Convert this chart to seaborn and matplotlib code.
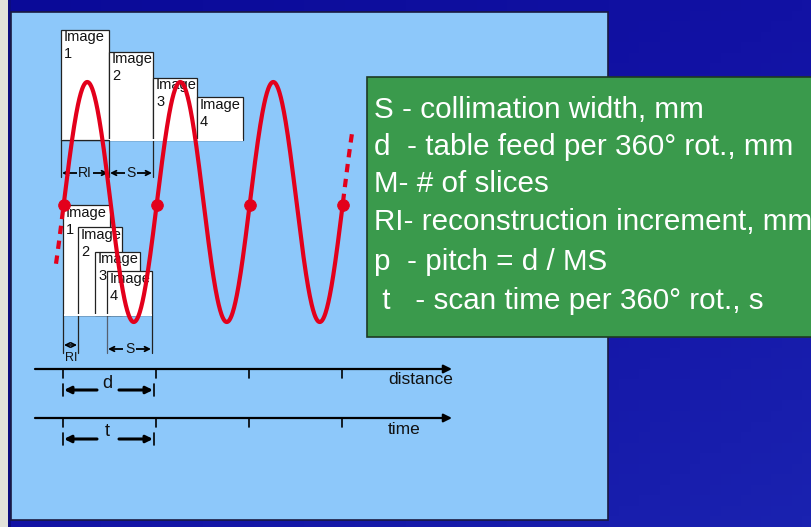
import numpy as np
import pandas as pd
import matplotlib
matplotlib.use("Agg")
import matplotlib.pyplot as plt
from matplotlib.patches import Rectangle
import seaborn as sns

sns.set_theme(style="white")
plt.rcParams['font.family'] = ['Liberation Sans', 'DejaVu Sans']

# ---------------- data (diagram coordinates, pixels) ----------------
rotation_starts = [64, 157, 250, 343]          # rotation boundaries along the axis
helix_period = 93
helix_mid = 202
helix_amp = 120

image_numbers = ["1", "2", "3", "4"]
top_image_left = [61, 109, 153, 197]
top_image_right = [109, 153, 197, 243]
top_image_top = [30, 52, 78, 97]
top_image_bottom = 140

bot_image_left = [63, 78, 95, 107]
bot_image_right = [110, 122, 140, 152]
bot_image_top = [205, 227, 252, 271]
bot_image_bottom = 315

legend_lines = [
    "S - collimation width, mm",
    "d  - table feed per 360\u00b0 rot., mm",
    "M- # of slices",
    "RI- reconstruction increment, mm",
    "p  - pitch = d / MS",
    " t   - scan time per 360\u00b0 rot., s",
]
axis_names = ["distance", "time"]

RED = "#E3001B"
PANEL = "#8DC8FA"

fig = plt.figure(figsize=(8.12, 5.27), dpi=100)
ax = fig.add_axes([0, 0, 1, 1])
ax.set_xlim(0, 812)
ax.set_ylim(527, 0)
ax.axis('off')

# background gradient (dark blue)
gy, gx = np.mgrid[0:1:50j, 0:1:80j]
grad = 0.5 * gx + 0.5 * gy
cmap = matplotlib.colors.LinearSegmentedColormap.from_list("bg", ["#0A0A98", "#1212A4", "#1A22B0"])
ax.imshow(grad, extent=(0, 812, 527, 0), cmap=cmap, aspect='auto', zorder=0)
ax.add_patch(Rectangle((0, 0), 8, 527, facecolor="#E2E2DA", edgecolor='none', zorder=1))
ax.add_patch(Rectangle((8, 0), 3, 527, facecolor="#0C0C80", edgecolor='none', zorder=1))

# light blue panel
ax.add_patch(Rectangle((11, 12), 597, 508, facecolor=PANEL, edgecolor="#1A1A40", lw=1.2, zorder=2))

# ---------------- image boxes ----------------
def boxes(lefts, rights, tops, bottom, labels):
    for i, (l, r, t, lab) in enumerate(zip(lefts, rights, tops, labels)):
        z = 3 + 2 * i
        ax.add_patch(Rectangle((l, t), r - l, bottom - t, facecolor="white",
                               edgecolor="#222222", lw=0.9, zorder=z))
        ax.text(l + 3, t + 7.5, "Image", fontsize=10.5, va='center', ha='left', color="#111111", zorder=z + 1)
        ax.text(l + 3, t + 24.5, lab, fontsize=10.5, va='center', ha='left', color="#111111", zorder=z + 1)
    ax.add_patch(Rectangle((lefts[0] + 0.6, bottom - 1), rights[-1] - lefts[0] - 0.6, 1.6,
                           facecolor="white", edgecolor='none', zorder=11))

boxes(top_image_left, top_image_right, top_image_top, top_image_bottom, image_numbers)
boxes(bot_image_left, bot_image_right, bot_image_top, bot_image_bottom, image_numbers)

# guide lines under top boxes
ax.plot([61, 109], [140, 140], color="#222222", lw=0.9, zorder=11.5)
for xv in [61, 109, 153]:
    ax.plot([xv, xv], [140, 177], color="#222222", lw=0.9, zorder=3)
# guide lines under bottom boxes
for xv, c in [(63, "#222222"), (78, "#222222"), (107, "#556070"), (152, "#222222")]:
    ax.plot([xv, xv], [315, 353], color=c, lw=0.9, zorder=3)

def dim_arrow(x0, x1, y, label, fs=10, lw=1.3, ty=None):
    ax.annotate("", xy=(x0, y), xytext=(x1, y),
                arrowprops=dict(arrowstyle='<->', lw=lw, color='black', shrinkA=0, shrinkB=0,
                                mutation_scale=8), zorder=5)
    if label:
        ax.text((x0 + x1) / 2, y if ty is None else ty, label, fontsize=fs, ha='center', va='center',
                color="#111111", zorder=6,
                bbox=dict(boxstyle='square,pad=0.1', facecolor=PANEL, edgecolor='none'))

dim_arrow(62, 108, 173, "RI", fs=10)
dim_arrow(110, 152, 173, "S", fs=10)
dim_arrow(64, 77, 345, "", lw=1.1)
ax.text(71, 358, "RI", fontsize=9, ha='center', va='center', color="#111111", zorder=6)
dim_arrow(108, 151, 349, "S", fs=10)

# ---------------- helix (seaborn) ----------------
xs = np.linspace(rotation_starts[0], rotation_starts[-1], 800)
helix = pd.DataFrame({"x": xs, "y": helix_mid - helix_amp * np.sin(2 * np.pi * (xs - rotation_starts[0]) / helix_period)})
sns.lineplot(data=helix, x="x", y="y", ax=ax, color=RED, lw=3.0, sort=False, zorder=12, estimator=None)
for xa, xb in [(rotation_starts[0] - 8, rotation_starts[0]), (rotation_starts[-1], rotation_starts[-1] + 9.5)]:
    xe = np.linspace(xa, xb, 50)
    ext = pd.DataFrame({"x": xe, "y": helix_mid - helix_amp * np.sin(2 * np.pi * (xe - rotation_starts[0]) / helix_period)})
    sns.lineplot(data=ext, x="x", y="y", ax=ax, color=RED, lw=3.0, sort=False, zorder=12,
                 estimator=None, dashes=False, linestyle=(0, (2.0, 1.6)))
dots = pd.DataFrame({"x": rotation_starts, "y": [helix_mid + 3] * len(rotation_starts)})
sns.scatterplot(data=dots, x="x", y="y", ax=ax, color=RED, s=70, edgecolor=RED, zorder=13)
ax.set_xlim(0, 812)
ax.set_ylim(527, 0)
ax.axis('off')

# ---------------- distance / time axes ----------------
for yline, name, lab, ty in [(369, axis_names[0], "d", 383), (418, axis_names[1], "t", 431)]:
    ax.annotate("", xy=(452, yline), xytext=(35, yline),
                arrowprops=dict(arrowstyle='-|>', lw=1.6, color='black', mutation_scale=12,
                                shrinkA=0, shrinkB=0), zorder=5)
    for k, xt in enumerate(rotation_starts):
        ax.plot([xt - 1, xt - 1], [yline, yline + 9], color='black', lw=1.2, zorder=5)
    ax.text(388, yline + 11, name, fontsize=12.5, ha='left', va='center', color="#111111", zorder=6)
    ya = yline + 21
    ax.plot([63, 63], [ya - 6, ya + 6], color='black', lw=1.2, zorder=5)
    ax.plot([154, 154], [ya - 6, ya + 6], color='black', lw=1.2, zorder=5)
    ax.annotate("", xy=(64, ya), xytext=(97, ya),
                arrowprops=dict(arrowstyle='-|>', lw=2.2, color='black', mutation_scale=10,
                                shrinkA=0, shrinkB=0), zorder=5)
    ax.annotate("", xy=(153, ya), xytext=(119, ya),
                arrowprops=dict(arrowstyle='-|>', lw=2.2, color='black', mutation_scale=10,
                                shrinkA=0, shrinkB=0), zorder=5)
    ax.text(107, ty, lab, fontsize=13, ha='center', va='center', color="#111111", zorder=6)

# ---------------- green legend box ----------------
ax.add_patch(Rectangle((367, 77), 460, 260, facecolor="#3A9A4C", edgecolor="#1E3A22", lw=1.2, zorder=20))
line_y = [110, 147, 184, 222, 262, 301]
for txt, yy in zip(legend_lines, line_y):
    ax.text(374, yy, txt, fontsize=21.3, ha='left', va='center', color="white", zorder=21)

fig.savefig("out.png", dpi=100)
